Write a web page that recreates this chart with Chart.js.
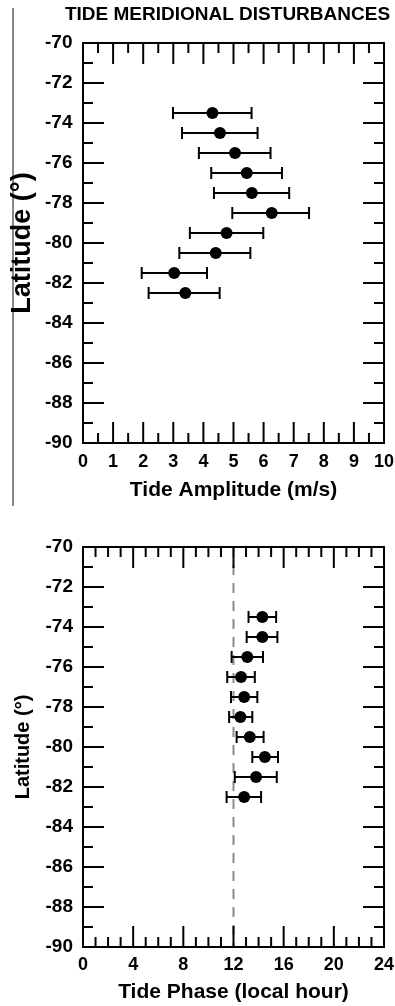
<!DOCTYPE html>
<html><head><meta charset="utf-8">
<script src="https://cdn.jsdelivr.net/npm/chart.js@4/dist/chart.umd.min.js"></script>
<style>
html,body{margin:0;padding:0;background:#fff;overflow:hidden;width:395px;height:1006px;}
#c1wrap{position:absolute;left:0;top:0;width:395px;height:515px;}
#c2wrap{position:absolute;left:0;top:515px;width:395px;height:491px;}
#rule{position:absolute;left:12px;top:8px;width:2px;height:498px;background:#888;}
</style></head><body>
<div id="rule"></div>
<div id="c1wrap"><canvas id="c1" width="395" height="515"></canvas></div>
<div id="c2wrap"><canvas id="c2" width="395" height="491"></canvas></div>
<script>
// ---- data ----
const latitudes  = [-73.5, -74.5, -75.5, -76.5, -77.5, -78.5, -79.5, -80.5, -81.5, -82.5];
const ampValues  = [4.30, 4.55, 5.05, 5.44, 5.61, 6.27, 4.77, 4.41, 3.03, 3.40];
const ampLow     = [2.99, 3.29, 3.85, 4.26, 4.35, 4.96, 3.55, 3.20, 1.95, 2.18];
const ampHigh    = [5.60, 5.80, 6.23, 6.61, 6.85, 7.51, 5.99, 5.56, 4.12, 4.54];
const phaseValues = [14.3, 14.3, 13.1, 12.6, 12.85, 12.55, 13.3, 14.5, 13.8, 12.85];
const phaseLow    = [13.2, 13.05, 11.85, 11.5, 11.8, 11.65, 12.25, 13.5, 12.1, 11.45];
const phaseHigh   = [15.4, 15.5, 14.35, 13.7, 13.9, 13.5, 14.4, 15.55, 15.45, 14.2];
const noonLine    = [12, 12];
const noonLats    = [-70, -90];
const chartTitle  = 'TIDE MERIDIONAL DISTURBANCES';
const yAxisTitle  = 'Latitude (°)';
const ampAxisTitle = 'Tide Amplitude (m/s)';
const phaseAxisTitle = 'Tide Phase (local hour)';

Chart.defaults.font.family = "'Liberation Sans', Arial, sans-serif";
Chart.defaults.font.weight = 'bold';
Chart.defaults.color = '#000';

function pointsOf(vals){ return vals.map((v,i)=>({x:v, y:latitudes[i]})); }
function barsOf(lo, hi){
  const out = [];
  lo.forEach((l,i)=>{ out.push({x:l, y:latitudes[i]}, {x:hi[i], y:latitudes[i]}, {x:null, y:null}); });
  return out;
}

const frameTicks = {
  id: 'frameTicks',
  afterDraw(chart, args, o) {
    const {ctx, chartArea: a, scales: {x, y}} = chart;
    ctx.save();
    ctx.strokeStyle = '#000';
    ctx.lineWidth = 2;
    ctx.beginPath();
    const n1 = Math.round((x.max - x.min) / o.xMinor);
    for (let i = 0; i <= n1; i++) {
      const v = x.min + i * o.xMinor;
      const px = x.getPixelForValue(v);
      const r = v / o.xMajor;
      const len = Math.abs(r - Math.round(r)) < 1e-6 ? 21 : 10;
      ctx.moveTo(px, a.bottom); ctx.lineTo(px, a.bottom - len);
      ctx.moveTo(px, a.top); ctx.lineTo(px, a.top + len);
    }
    const n2 = Math.round((y.max - y.min) / o.yMinor);
    for (let i = 0; i <= n2; i++) {
      const v = y.min + i * o.yMinor;
      const py = y.getPixelForValue(v);
      const r = v / o.yMajor;
      const len = Math.abs(r - Math.round(r)) < 1e-6 ? 21 : 10;
      ctx.moveTo(a.left, py); ctx.lineTo(a.left + len, py);
      ctx.moveTo(a.right, py); ctx.lineTo(a.right - len, py);
    }
    ctx.stroke();
    ctx.strokeRect(a.left, a.top, a.right - a.left, a.bottom - a.top);
    ctx.restore();
  }
};

function makeScales(cfg) {
  return {
    x: {
      type: 'linear', position: 'bottom', min: cfg.xMin, max: cfg.xMax,
      ticks: {stepSize: cfg.xStep, padding: cfg.xLabelPad, font: {size: 18, weight: 'bold'}, color: '#000', maxRotation: 0, autoSkip: false},
      grid: {display: false, drawTicks: false}, border: {display: false},
      title: {display: true, text: cfg.xTitle, font: {size: 21, weight: 'bold'}, color: '#000', padding: {top: 0, bottom: 0}},
      afterFit(s) { s.height = cfg.xHeight; s.paddingLeft = 0; s.paddingRight = 0; }
    },
    y: {
      type: 'linear', position: 'left', min: -90, max: -70,
      ticks: {stepSize: 2, padding: cfg.yLabelPad, mirror: cfg.yMirror, crossAlign: 'near',
              font: {size: 19, weight: 'bold'}, color: '#000', autoSkip: false},
      grid: {display: false, drawTicks: false}, border: {display: false},
      title: {display: true, text: yAxisTitle, font: {size: cfg.yTitleSize, weight: 'bold'}, color: '#000', padding: {top: cfg.yTitlePad, bottom: 0}},
      afterFit(s) { s.width = cfg.yWidth; s.paddingTop = 0; s.paddingBottom = 0; }
    },
    yRight: {
      type: 'linear', position: 'right', min: -90, max: -70,
      ticks: {display: false}, grid: {display: false, drawTicks: false}, border: {display: false},
      title: {display: false},
      afterFit(s) { s.width = cfg.rightWidth; s.paddingTop = 0; s.paddingBottom = 0; }
    }
  };
}

const common = {
  responsive: false, animation: false, devicePixelRatio: 1,
  events: []
};

new Chart(document.getElementById('c1'), {
  type: 'scatter',
  data: {
    datasets: [
      {data: pointsOf(ampValues), pointRadius: 6, pointBackgroundColor: '#000', pointBorderColor: '#000', pointBorderWidth: 0},
      {data: barsOf(ampLow, ampHigh), showLine: true, spanGaps: false, borderColor: '#000', borderWidth: 2,
       pointStyle: 'line', pointRotation: 90, pointRadius: 6, pointBorderColor: '#000', pointBorderWidth: 2}
    ]
  },
  options: Object.assign({}, common, {
    layout: {padding: {left: 60, right: 0, top: 0, bottom: 11.7}},
    plugins: {
      legend: {display: false}, tooltip: {enabled: false},
      title: {display: true, text: chartTitle, font: {size: 19, weight: 'bold'}, color: '#000', padding: {top: 3.6, bottom: 16.6}},
      frameTicks: {xMinor: 0.5, xMajor: 1, yMinor: 1, yMajor: 2}
    },
    scales: makeScales({xMin: 0, xMax: 10, xStep: 1, xLabelPad: 8, xTitle: ampAxisTitle, xHeight: 60.3,
                        yTitleSize: 27, yTitlePad: -53.2, yWidth: 23, yMirror: true, yLabelPad: -38, rightWidth: 11})
  }),
  plugins: [frameTicks]
});

new Chart(document.getElementById('c2'), {
  type: 'scatter',
  data: {
    datasets: [
      {data: pointsOf(phaseValues), pointRadius: 6, pointBackgroundColor: '#000', pointBorderColor: '#000', pointBorderWidth: 0},
      {data: barsOf(phaseLow, phaseHigh), showLine: true, spanGaps: false, borderColor: '#000', borderWidth: 2,
       pointStyle: 'line', pointRotation: 90, pointRadius: 6, pointBorderColor: '#000', pointBorderWidth: 2},
      {data: noonLine.map((v,i)=>({x:v, y:noonLats[i]})), showLine: true, borderColor: '#8c8c8c', borderWidth: 2,
       borderDash: [10, 8], pointRadius: 0}
    ]
  },
  options: Object.assign({}, common, {
    layout: {padding: {left: 0, right: 0, top: 32, bottom: 1.4}},
    plugins: {
      legend: {display: false}, tooltip: {enabled: false}, title: {display: false},
      frameTicks: {xMinor: 1, xMajor: 4, yMinor: 1, yMajor: 2}
    },
    scales: makeScales({xMin: 0, xMax: 24, xStep: 4, xLabelPad: 7, xTitle: phaseAxisTitle, xHeight: 57.6,
                        yTitleSize: 20, yTitlePad: 11, yWidth: 83, yMirror: false, yLabelPad: 10, rightWidth: 11})
  }),
  plugins: [frameTicks]
});
</script>
</body></html>
